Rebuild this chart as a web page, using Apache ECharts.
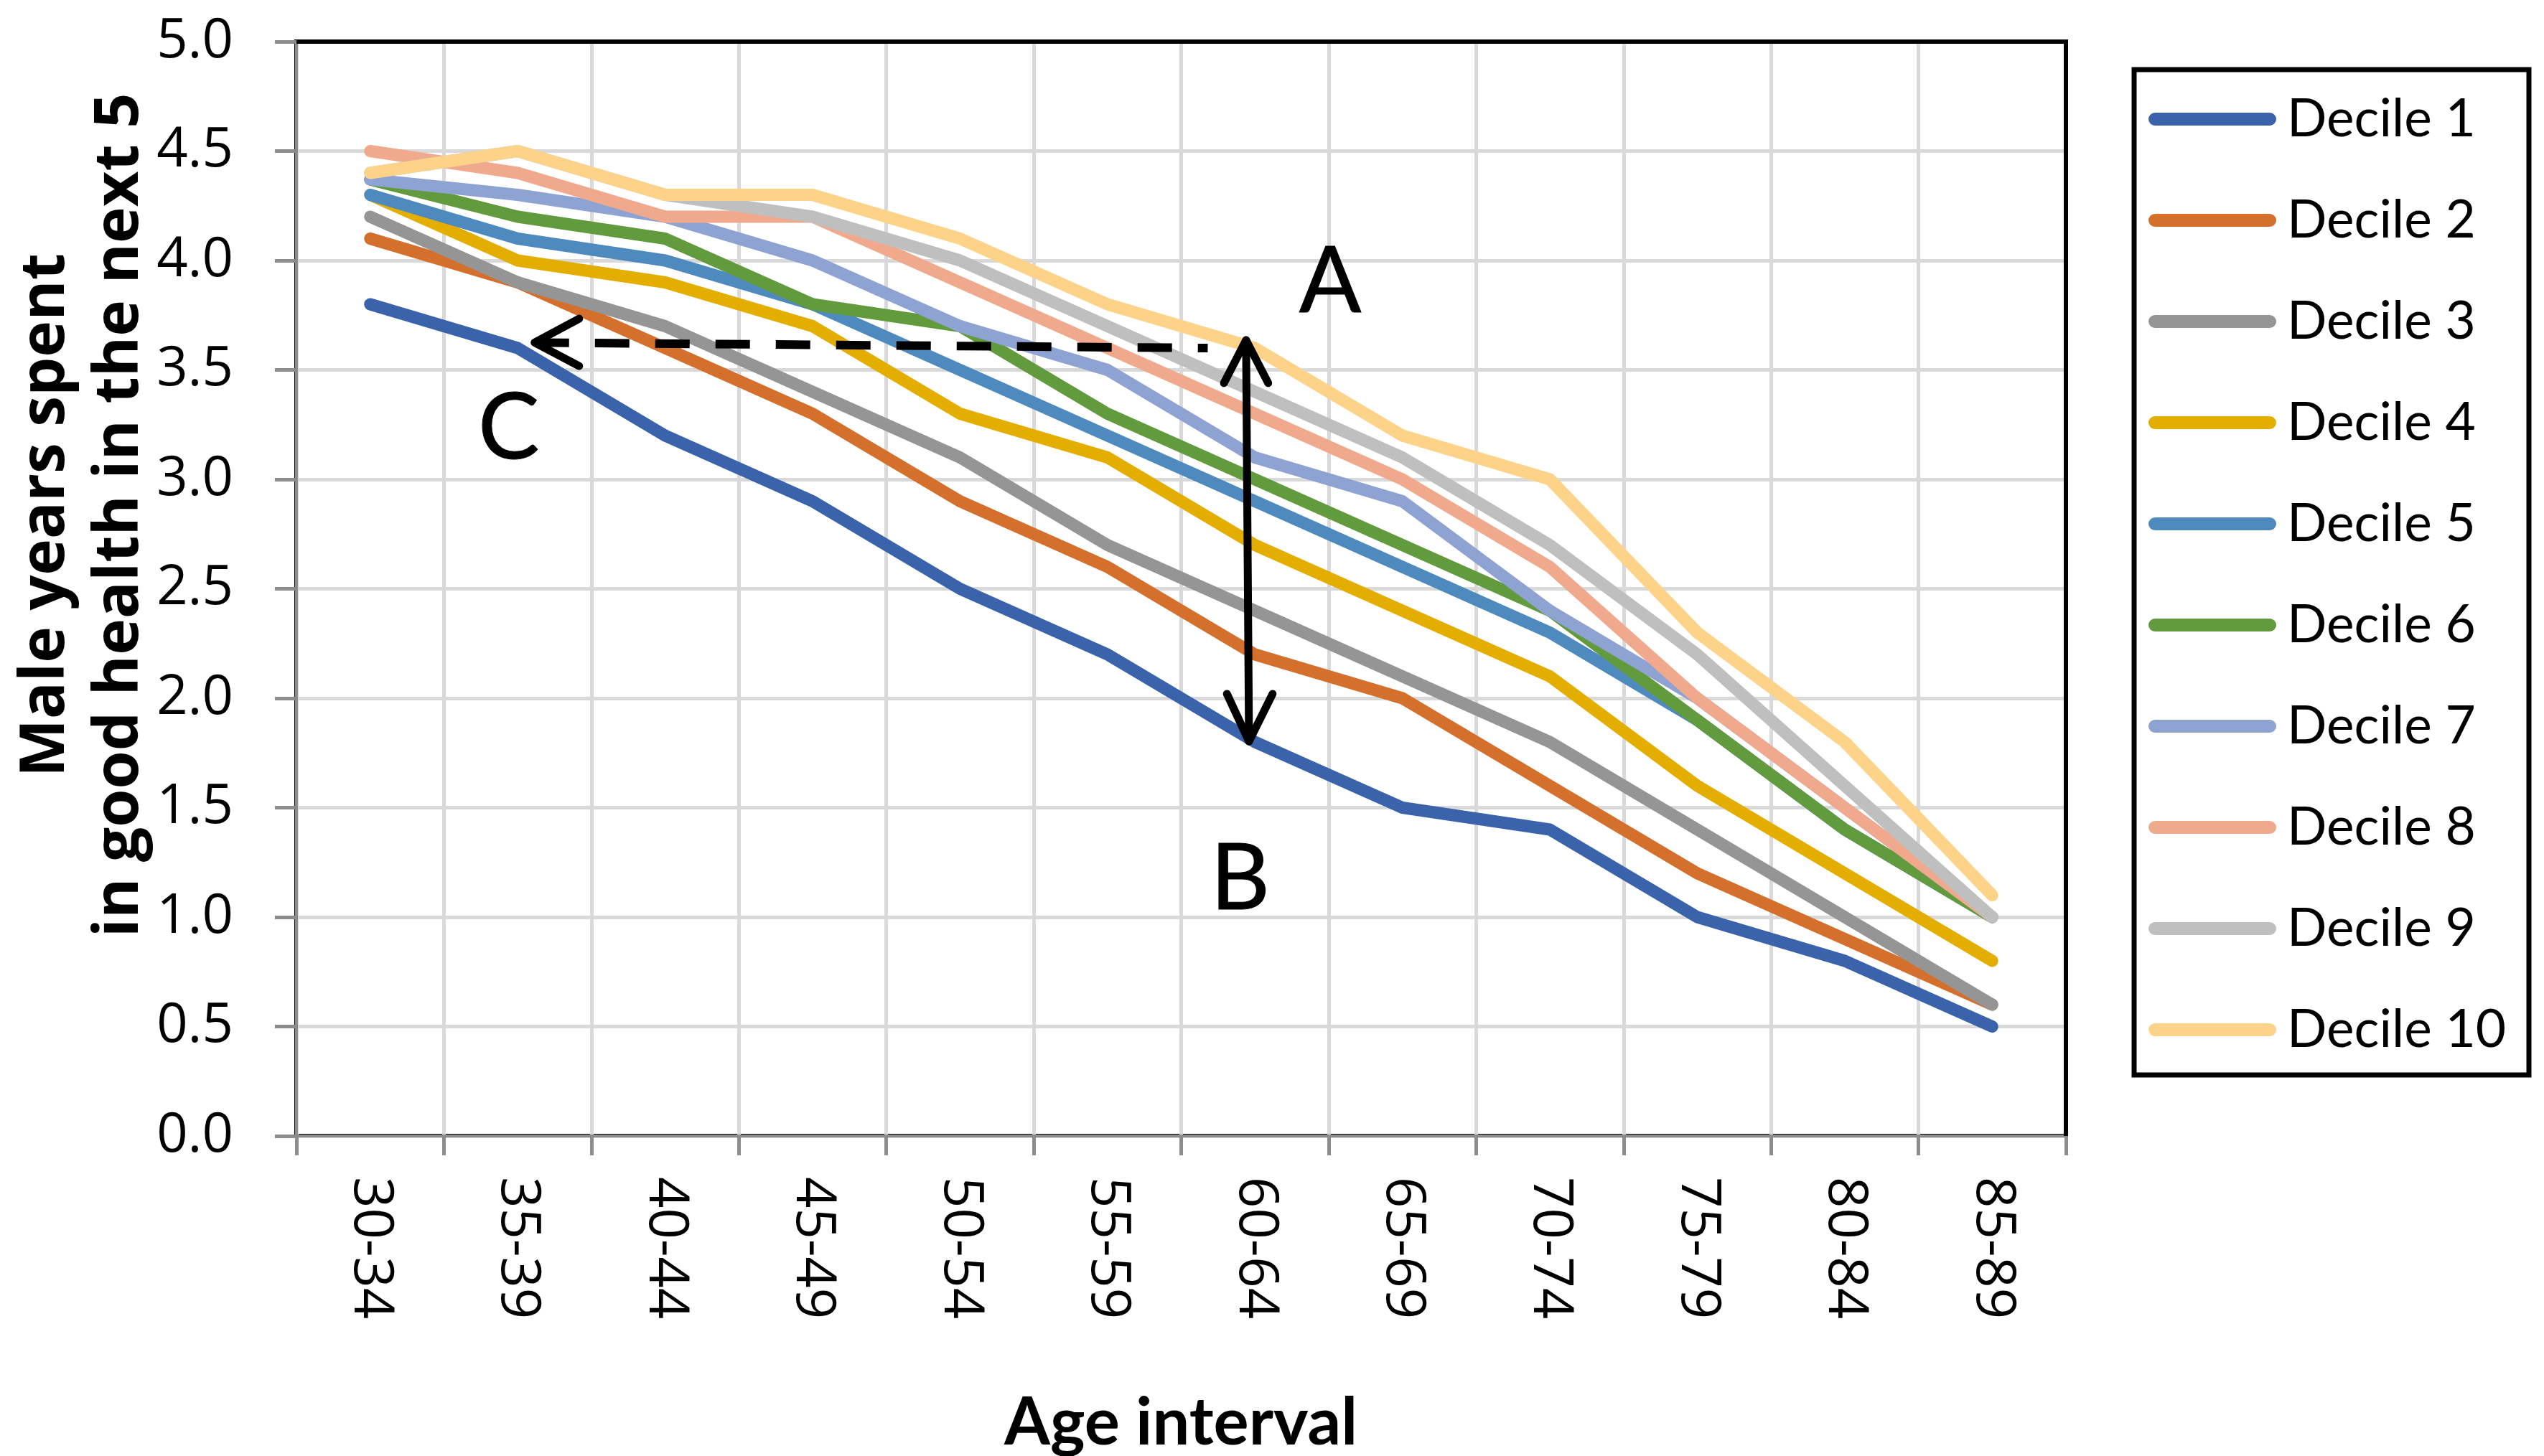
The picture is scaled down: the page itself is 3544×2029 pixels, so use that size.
<!DOCTYPE html>
<html>
<head>
<meta charset="utf-8">
<script src="https://cdn.jsdelivr.net/npm/echarts@6/dist/echarts.min.js"></script>
<style>html,body{margin:0;padding:0;background:#fff;}#c{width:3544px;height:2029px;}</style>
</head>
<body>
<div id="c"></div>
<script>
const categories = ['30-34','35-39','40-44','45-49','50-54','55-59','60-64','65-69','70-74','75-79','80-84','85-89'];
const seriesNames = ['Decile 1','Decile 2','Decile 3','Decile 4','Decile 5','Decile 6','Decile 7','Decile 8','Decile 9','Decile 10'];
const decile1  = [3.8,3.6,3.2,2.9,2.5,2.2,1.8,1.5,1.4,1.0,0.8,0.5];
const decile2  = [4.1,3.9,3.6,3.3,2.9,2.6,2.2,2.0,1.6,1.2,0.9,0.6];
const decile3  = [4.2,3.9,3.7,3.4,3.1,2.7,2.4,2.1,1.8,1.4,1.0,0.6];
const decile4  = [4.3,4.0,3.9,3.7,3.3,3.1,2.7,2.4,2.1,1.6,1.2,0.8];
const decile5  = [4.3,4.1,4.0,3.8,3.5,3.2,2.9,2.6,2.3,1.9,1.4,1.0];
const decile6  = [4.37,4.2,4.1,3.8,3.7,3.3,3.0,2.7,2.4,1.9,1.4,1.0];
const decile7  = [4.37,4.3,4.2,4.0,3.7,3.5,3.1,2.9,2.4,2.0,1.5,1.0];
const decile8  = [4.5,4.4,4.2,4.2,3.9,3.6,3.3,3.0,2.6,2.0,1.5,1.0];
const decile9  = [4.4,4.5,4.3,4.2,4.0,3.7,3.4,3.1,2.7,2.2,1.6,1.0];
const decile10 = [4.4,4.5,4.3,4.3,4.1,3.8,3.6,3.2,3.0,2.3,1.8,1.1];
const yTicks = [0,0.5,1,1.5,2,2.5,3,3.5,4,4.5,5];

// annotation geometry in data space (x = category index, y = value)
const dashedArrowLine = [[1.115,3.625],[5.68,3.60]];
const dashedArrowHead = [[1.417,3.734],[1.115,3.625],[1.417,3.518]];
const verticalLine = [[5.94,3.636],[5.96,1.803]];
const verticalHeadTop = [[5.79,3.44],[5.94,3.636],[6.09,3.44]];
const verticalHeadBottom = [[5.81,2.02],[5.96,1.803],[6.12,2.02]];
const letterLabels = [[6.51,3.90,'A'],[5.90,1.17,'B'],[0.94,3.23,'C']];

const allData = [decile1,decile2,decile3,decile4,decile5,decile6,decile7,decile8,decile9,decile10];
const colors = ['#3A63AC','#D46F2C','#959595','#E3AE00','#4F8ABF','#629A3E','#8FA3D3','#F0A98C','#BFBFBF','#FDD38A'];

const series = allData.map((d, i) => ({
  name: seriesNames[i],
  type: 'line',
  data: d,
  symbol: 'none',
  showSymbol: false,
  lineStyle: { width: 17, color: colors[i], cap: 'round', join: 'round' },
  itemStyle: { color: colors[i] },
  z: 2 + i * 0.01,
  silent: true
}));

function annoLine(data, dashed) {
  return {
    type: 'line', xAxisIndex: 1, yAxisIndex: 0, data: data, symbol: 'none', silent: true,
    lineStyle: { color: '#000', width: dashed ? 12 : 11, type: dashed ? [48, 36] : 'solid', cap: dashed ? 'butt' : 'round', join: 'round' },
    z: 10
  };
}
series.push(annoLine(dashedArrowLine, true));
series.push(annoLine(dashedArrowHead, false));
series.push(annoLine(verticalLine, false));
series.push(annoLine(verticalHeadTop, false));
series.push(annoLine(verticalHeadBottom, false));
series.push({
  type: 'scatter', xAxisIndex: 1, yAxisIndex: 0, data: letterLabels, symbolSize: 1,
  itemStyle: { color: 'rgba(0,0,0,0)' }, silent: true, z: 11,
  label: { show: true, position: 'inside', formatter: p => p.data[2], fontFamily: 'Lato', fontSize: 128, color: '#000000', opacity: 1, textBorderColor: '#000000', textBorderWidth: 1 }
});

const chart = echarts.init(document.getElementById('c'), null, { renderer: 'canvas' });
chart.setOption({
  animation: false,
  backgroundColor: '#fff',
  grid: { left: 413, right: 666, top: 58, bottom: 446, show: true, borderColor: '#000', borderWidth: 6, backgroundColor: 'transparent' },
  legend: {
    orient: 'vertical', left: 2993, top: 126, itemGap: 61, padding: 0,
    itemWidth: 178, itemHeight: 18,
    icon: 'path://M9,0L169,0A9,9,0,0,1,169,18L9,18A9,9,0,0,1,9,0Z',
    data: seriesNames,
    textStyle: { fontFamily: 'Lato', fontSize: 73, color: '#000', lineHeight: 80, padding: [0,0,0,10] },
    selectedMode: false
  },
  xAxis: [{
    type: 'category', data: categories, boundaryGap: true,
    axisLine: { show: true, lineStyle: { color: '#8c8c8c', width: 4 } },
    axisTick: { show: true, length: 27, lineStyle: { color: '#8c8c8c', width: 5 }, interval: 0 },
    axisLabel: { rotate: -90, margin: 57, fontFamily: 'Open Sans', fontSize: 76, color: '#000', interval: 0 },
    splitLine: { show: true, interval: 0, lineStyle: { color: '#d9d9d9', width: 5 } }
  }, {
    type: 'value', min: -0.5, max: 11.5, show: false, splitLine: { show: false },
    axisLine: { show: false, onZero: false }
  }],
  yAxis: [{
    type: 'value', min: 0, max: 5, interval: 0.5,
    axisLine: { show: true, onZero: false, lineStyle: { color: '#8c8c8c', width: 4 } },
    axisTick: { show: true, length: 30, lineStyle: { color: '#8c8c8c', width: 5 } },
    axisLabel: { margin: 88, fontFamily: 'Open Sans', fontSize: 76, color: '#000', formatter: v => v.toFixed(1) },
    splitLine: { show: true, lineStyle: { color: '#d9d9d9', width: 5 } }
  }],
  graphic: [
    { type: 'rect', z: 0, shape: { x: 2973, y: 97, width: 550, height: 1401 }, style: { fill: '#fff', stroke: '#000', lineWidth: 7 } },
    { type: 'polyline', z: 100, shape: { points: [[413,58],[2878,58],[2878,1583]] }, style: { stroke: '#000', lineWidth: 6, fill: null } },
    { type: 'text', x: 64, y: 718, rotation: Math.PI / 2, z: 5,
      style: { text: 'Male years spent', font: 'bold 86px "Open Sans"', fill: '#000', align: 'center', verticalAlign: 'middle' } },
    { type: 'text', x: 167, y: 718, rotation: Math.PI / 2, z: 5,
      style: { text: 'in good health in the next 5', font: 'bold 86px "Open Sans"', fill: '#000', align: 'center', verticalAlign: 'middle' } },
    { type: 'text', x: 1645, y: 1983, z: 5,
      style: { text: 'Age interval', font: 'bold 92px Lato', fill: '#000', align: 'center', verticalAlign: 'middle' } }
  ],
  series: series
});
</script>
</body>
</html>
